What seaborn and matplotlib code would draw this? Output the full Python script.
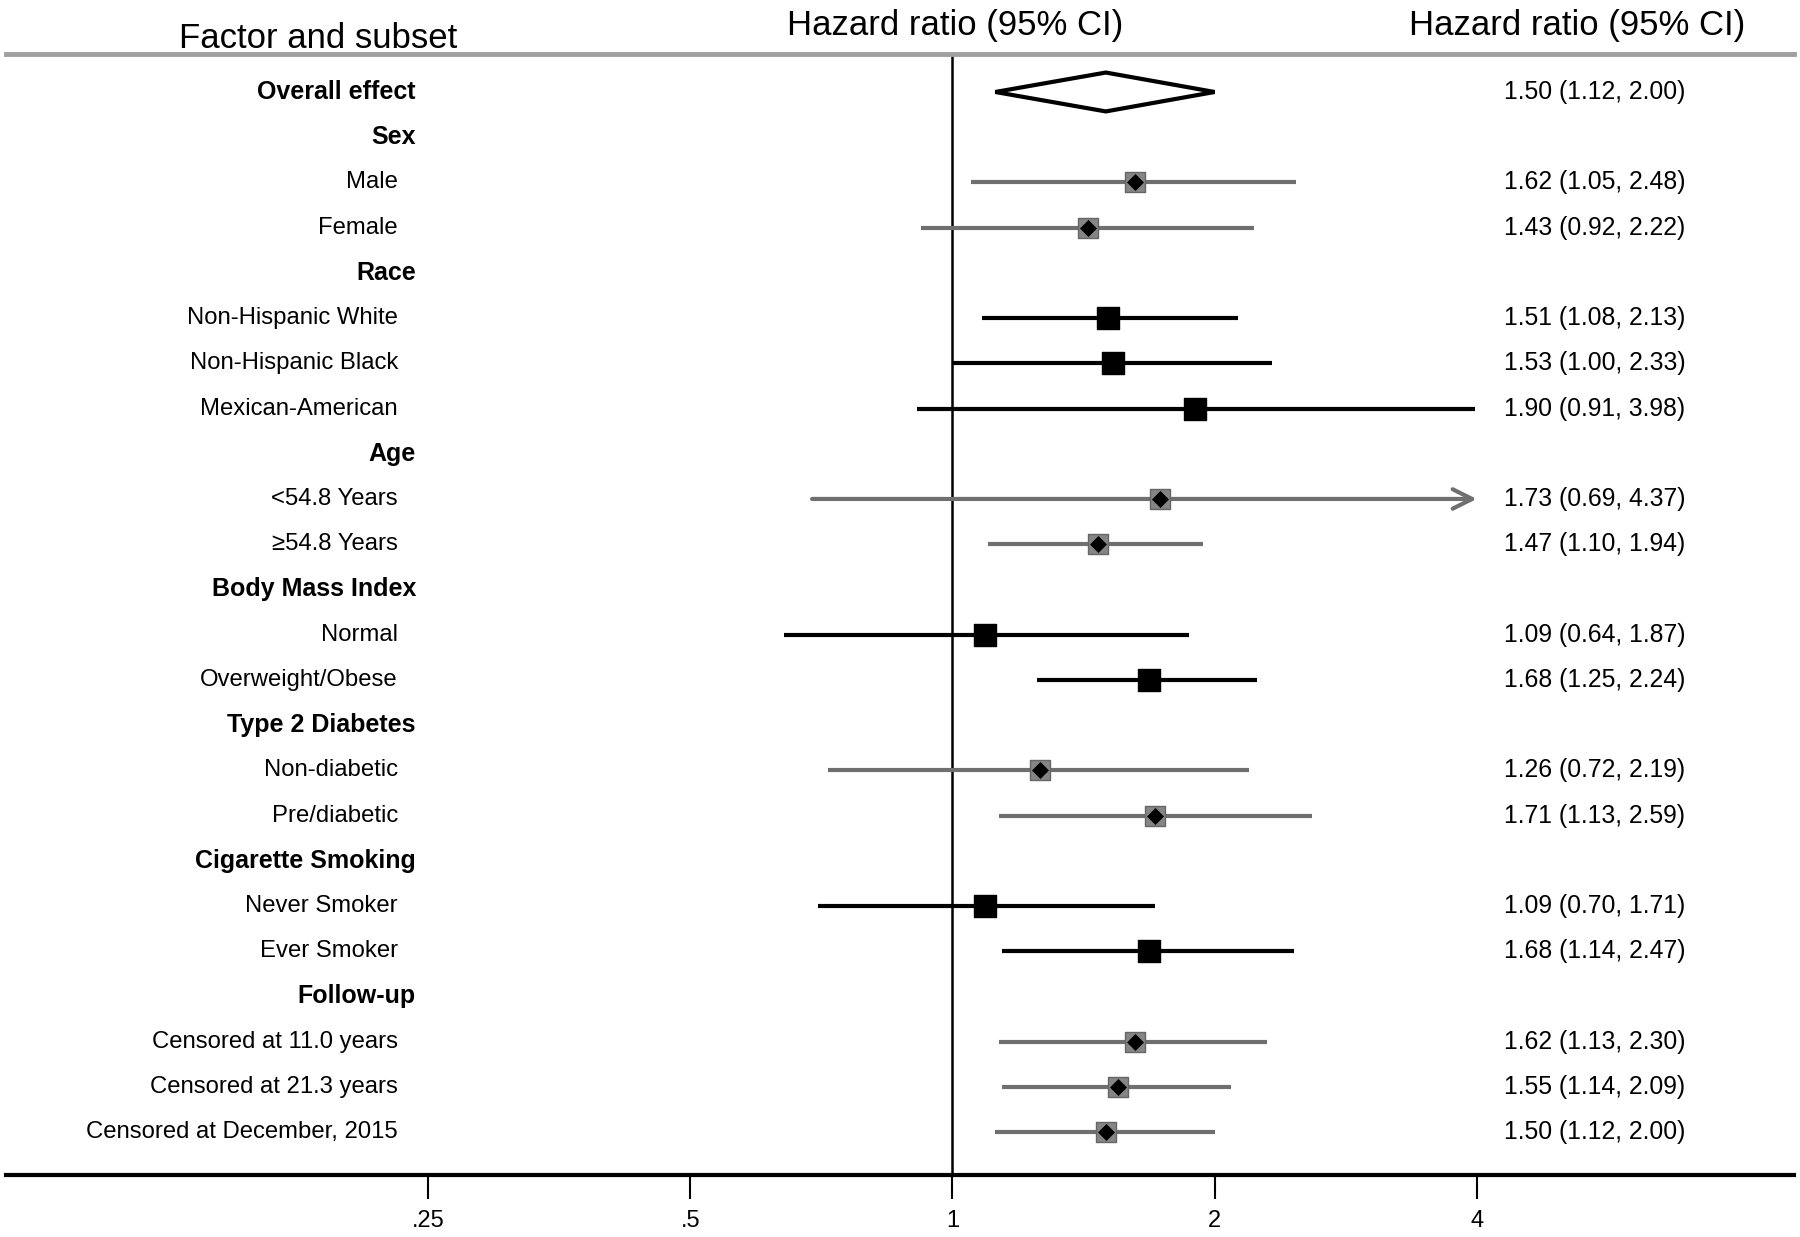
import numpy as np
import pandas as pd
import matplotlib
matplotlib.use("Agg")
import matplotlib.pyplot as plt
import seaborn as sns

# rows, top to bottom
labels = ["Overall effect", "Sex", "Male", "Female", "Race",
          "Non-Hispanic White", "Non-Hispanic Black", "Mexican-American",
          "Age", "<54.8 Years", "≥54.8 Years", "Body Mass Index", "Normal",
          "Overweight/Obese", "Type 2 Diabetes", "Non-diabetic", "Pre/diabetic",
          "Cigarette Smoking", "Never Smoker", "Ever Smoker", "Follow-up",
          "Censored at 11.0 years", "Censored at 21.3 years",
          "Censored at December, 2015"]
kinds = ["overall", "head", "gray", "gray", "head", "black", "black", "black",
         "head", "gray", "gray", "head", "black", "black", "head", "gray", "gray",
         "head", "black", "black", "head", "gray", "gray", "gray"]
nan = np.nan
hr = [1.50, nan, 1.62, 1.43, nan, 1.51, 1.53, 1.90, nan, 1.73, 1.47, nan,
      1.09, 1.68, nan, 1.26, 1.71, nan, 1.09, 1.68, nan, 1.62, 1.55, 1.50]
lo = [1.12, nan, 1.05, 0.92, nan, 1.08, 1.00, 0.91, nan, 0.69, 1.10, nan,
      0.64, 1.25, nan, 0.72, 1.13, nan, 0.70, 1.14, nan, 1.13, 1.14, 1.12]
hi = [2.00, nan, 2.48, 2.22, nan, 2.13, 2.33, 3.98, nan, 4.37, 1.94, nan,
      1.87, 2.24, nan, 2.19, 2.59, nan, 1.71, 2.47, nan, 2.30, 2.09, 2.00]
tick_vals = [0.25, 0.5, 1, 2, 4]
tick_labels = [".25", ".5", "1", "2", "4"]
ci_cap = 4  # CIs beyond this are drawn as arrows

df = pd.DataFrame({"label": labels, "kind": kinds, "hr": hr, "lo": lo, "hi": hi})
df["row"] = np.arange(len(df))

sns.set_style("white")
plt.rcParams["font.family"] = ["Liberation Sans", "DejaVu Sans"]
plt.rcParams["text.color"] = "black"
plt.rcParams["xtick.color"] = "black"

fig = plt.figure(figsize=(18, 12.37), dpi=100)
ax = fig.add_axes([6 / 1800, 1 - 1175 / 1237, 1788 / 1800, (1175 - 54) / 1237])
ax.set_xscale("log", base=2)
ax.set_xlim(2 ** -3.61, 2 ** 3.21)
ax.set_ylim(23.95, -0.84)

gray = "#6f6f6f"
ax.axvline(1, color="black", lw=1.8, zorder=1)

# confidence intervals
for kind, col in [("gray", gray), ("black", "black")]:
    sub = df[df.kind == kind]
    inside = sub[sub.hi <= ci_cap]
    ax.hlines(inside.row, inside.lo, inside.hi, color=col, lw=3, zorder=2)
    for _, r in sub[sub.hi > ci_cap].iterrows():
        ax.annotate("", xy=(ci_cap, r.row), xytext=(r.lo, r.row),
                    arrowprops=dict(arrowstyle="->", lw=3, color=col,
                                    mutation_scale=35, shrinkA=0, shrinkB=0),
                    zorder=2)

# point estimates
g = df[df.kind == "gray"]
sns.scatterplot(data=g, x="hr", y="row", marker="s", s=190, color="#858585",
                edgecolor="#666666", linewidth=1, ax=ax, zorder=3)
sns.scatterplot(data=g, x="hr", y="row", marker="D", s=75, color="black",
                edgecolor="black", linewidth=0, ax=ax, zorder=4)
b = df[df.kind == "black"]
sns.scatterplot(data=b, x="hr", y="row", marker="s", s=230, color="black",
                edgecolor="black", linewidth=1, ax=ax, zorder=3)

# overall diamond
o = df[df.kind == "overall"].iloc[0]
h = 0.43
ax.fill([o.lo, o.hr, o.hi, o.hr, o.lo], [o.row, o.row - h, o.row, o.row + h, o.row],
        facecolor="white", edgecolor="black", lw=3, zorder=3)

# text columns
ytr = ax.get_yaxis_transform()
for _, r in df.iterrows():
    if r.kind in ("head", "overall"):
        ax.text((416 - 6) / 1788, r.row, r.label, ha="right", va="center",
                fontsize=18, fontweight="bold", color="black", transform=ytr)
    else:
        ax.text((398 - 6) / 1788, r.row, r.label, ha="right", va="center",
                fontsize=17.2, color="black", transform=ytr)
    if not np.isnan(r.hr):
        ax.text((1504 - 6) / 1788, r.row, f"{r.hr:.2f} ({r.lo:.2f}, {r.hi:.2f})",
                ha="left", va="center", fontsize=17.8, color="black", transform=ytr)

fig.text(318 / 1800, 1 - 38 / 1237, "Factor and subset", ha="center", va="center",
         fontsize=25, color="black")
fig.text(955 / 1800, 1 - 25 / 1237, "Hazard ratio (95% CI)", ha="center", va="center",
         fontsize=25, color="black")
fig.text(1577 / 1800, 1 - 25 / 1237, "Hazard ratio (95% CI)", ha="center", va="center",
         fontsize=25, color="black")

# axes styling
ax.set_yticks([])
ax.set_xticks(tick_vals)
ax.set_xticklabels(tick_labels)
ax.minorticks_off()
ax.set_xlabel("")
ax.set_ylabel("")
ax.tick_params(axis="x", direction="out", length=17, width=1.5, pad=8,
               labelsize=17, bottom=True, color="black", labelcolor="black")
for s in ["left", "right"]:
    ax.spines[s].set_visible(False)
ax.spines["bottom"].set_color("black")
ax.spines["bottom"].set_linewidth(3)
ax.spines["top"].set_color("#a0a0a0")
ax.spines["top"].set_linewidth(3.5)

fig.savefig("out.png", dpi=100)
